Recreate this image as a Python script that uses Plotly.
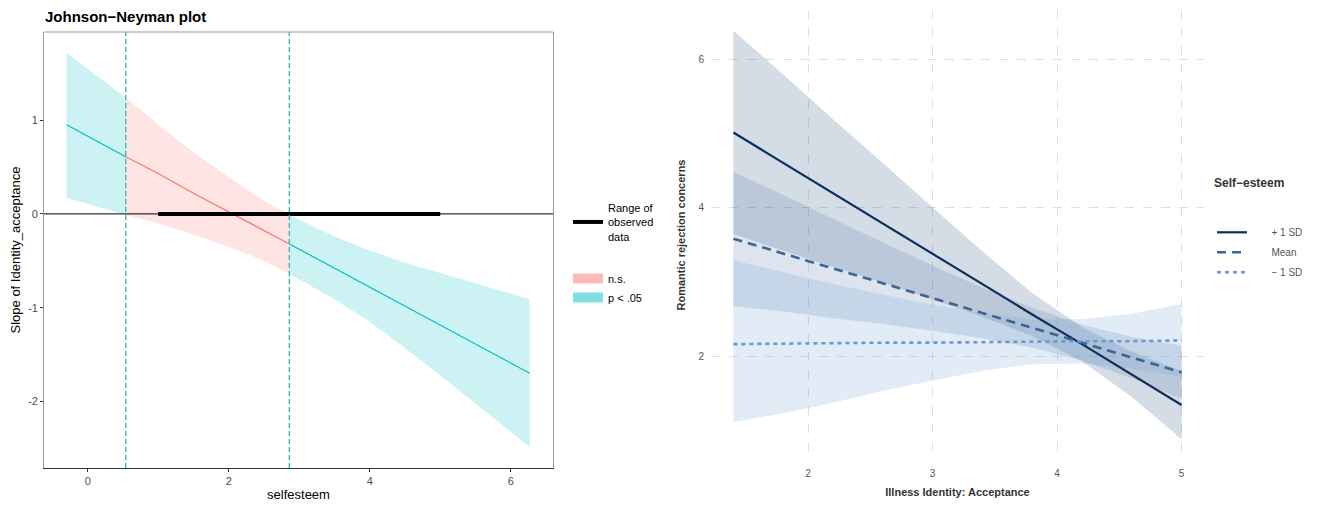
import plotly.graph_objects as go

# --- left panel: Johnson-Neyman plot ---
jn_x = [-0.3, 0.54, 1.0, 1.5, 2.0, 2.5, 2.86, 3.5, 4.0, 4.5, 5.0, 5.5, 6.27]
jn_slope = [0.95, 0.61, 0.43, 0.22, 0.02, -0.18, -0.32, -0.58, -0.78, -0.98, -1.19, -1.39, -1.70]
jn_upper = [1.72, 1.24, 0.95, 0.66, 0.39, 0.14, -0.01, -0.24, -0.39, -0.52, -0.63, -0.74, -0.91]
jn_lower = [0.17, -0.01, -0.10, -0.22, -0.35, -0.50, -0.64, -0.91, -1.15, -1.43, -1.72, -2.02, -2.49]
jn_bounds = [0.54, 2.86]
observed_range = [1, 5]

# --- right panel: simple slopes ---
acc_x = [1.4, 1.8, 2.2, 2.6, 3.0, 3.4, 3.8, 4.2, 4.6, 5.0]
hi_fit = [5.01, 4.60, 4.20, 3.79, 3.38, 2.97, 2.56, 2.16, 1.75, 1.34]
hi_upper = [6.38, 5.79, 5.19, 4.60, 4.00, 3.41, 2.85, 2.39, 2.06, 1.80]
hi_lower = [3.64, 3.42, 3.20, 2.99, 2.76, 2.53, 2.27, 1.93, 1.45, 0.88]
mean_fit = [3.58, 3.38, 3.18, 2.98, 2.78, 2.58, 2.38, 2.18, 1.98, 1.78]
mean_upper = [4.48, 4.17, 3.85, 3.53, 3.22, 2.92, 2.65, 2.42, 2.26, 2.14]
mean_lower = [2.67, 2.60, 2.51, 2.43, 2.34, 2.24, 2.11, 1.94, 1.70, 1.42]
lo_fit = [2.16, 2.17, 2.17, 2.18, 2.18, 2.19, 2.19, 2.20, 2.20, 2.21]
lo_upper = [3.29, 3.13, 2.97, 2.83, 2.69, 2.58, 2.49, 2.50, 2.57, 2.70]
lo_lower = [1.11, 1.23, 1.37, 1.53, 1.67, 1.80, 1.89, 1.90, 1.83, 1.72]

TEAL = "#00BFC4"
SALMON = "#F8766D"
FONT = "Liberation Sans, Arial, sans-serif"

# page body has an 8px margin, so the figure is a bit smaller than the window
OFF = 8
W, H = 1325 - 2 * OFF, 510 - 2 * OFF


def fx(px):
    return (px - OFF) / W


def fy(py):
    return 1 - (py - OFF) / H


fig = go.Figure()


def band(xs, up, lo):
    return xs + xs[::-1], up + lo[::-1]


# split the JN curve into regions at the bounds
i0 = jn_x.index(jn_bounds[0])
i1 = jn_x.index(jn_bounds[1])
regions = [(0, i0, TEAL), (i0, i1, SALMON), (i1, len(jn_x) - 1, TEAL)]
for a, b, col in regions:
    xs = jn_x[a:b + 1]
    bx, by = band(xs, jn_upper[a:b + 1], jn_lower[a:b + 1])
    rgba = "rgba(0,191,196,0.2)" if col == TEAL else "rgba(248,118,109,0.2)"
    fig.add_trace(go.Scatter(x=bx, y=by, fill="toself", fillcolor=rgba, mode="none",
                             showlegend=False, hoverinfo="skip", xaxis="x", yaxis="y"))
for a, b, col in regions:
    fig.add_trace(go.Scatter(x=jn_x[a:b + 1], y=jn_slope[a:b + 1], mode="lines",
                             line=dict(color=col, width=1.2), showlegend=False,
                             xaxis="x", yaxis="y"))

# observed range bar
fig.add_trace(go.Scatter(x=observed_range, y=[0, 0], mode="lines",
                         line=dict(color="black", width=4),
                         name="Range of<br>observed<br>data", legend="legend",
                         xaxis="x", yaxis="y"))

# legend-only fill keys
fig.add_trace(go.Scatter(x=[None], y=[None], mode="lines",
                         line=dict(color="rgba(248,118,109,0.5)", width=16),
                         name="n.s.", legend="legend2", legendgroup="ns",
                         xaxis="x", yaxis="y"))
fig.add_trace(go.Scatter(x=[None], y=[None], mode="lines",
                         line=dict(color="rgba(0,191,196,0.5)", width=16),
                         name="p < .05", legend="legend2", legendgroup="sig",
                         xaxis="x", yaxis="y"))

# right panel bands
NB = "\u00a0"
series = [
    ("+ 1 SD", hi_fit, hi_upper, hi_lower, "#0d2f5c", "rgba(40,80,130,0.2)", "solid", 2.2),
    ("Mean", mean_fit, mean_upper, mean_lower, "#3b6597", "rgba(85,118,168,0.2)", "9px,6px", 2.6),
    ("\u2212 1 SD", lo_fit, lo_upper, lo_lower, "#6a98cc", "rgba(110,160,215,0.2)", "4px,4px", 2.6),
]
for name, fit, up, lo, lc, fc, dash, w in series:
    bx, by = band(acc_x, up, lo)
    fig.add_trace(go.Scatter(x=bx, y=by, fill="toself", fillcolor=fc, mode="none",
                             showlegend=False, hoverinfo="skip", xaxis="x2", yaxis="y2"))
for name, fit, up, lo, lc, fc, dash, w in series:
    fig.add_trace(go.Scatter(x=acc_x, y=fit, mode="lines", name=NB * 7 + name,
                             line=dict(color=lc, width=w, dash=dash), legend="legend3",
                             legendgroup=name, xaxis="x2", yaxis="y2"))

# reference lines on the left panel
fig.add_shape(type="line", xref="x domain", yref="y", x0=0, x1=1, y0=0, y1=0,
              line=dict(color="black", width=1))
for b in jn_bounds:
    fig.add_shape(type="line", xref="x", yref="y domain", x0=b, x1=b, y0=0, y1=1,
                  line=dict(color="#22b8b3", width=1.3, dash="5px,3px"))
fig.add_shape(type="line", xref="x domain", yref="y domain", x0=0, x1=1, y0=1, y1=1,
              line=dict(color="#9a9a9a", width=1))

tick_font = dict(family=FONT, size=11, color="#4d4d4d")
fig.update_layout(
    width=W, height=H,
    margin=dict(l=0, r=0, t=0, b=0),
    plot_bgcolor="white", paper_bgcolor="white",
    font=dict(family=FONT),
    title=dict(text="<b>Johnson\u2212Neyman plot</b>", x=fx(45), xanchor="left",
               y=fy(17), yanchor="middle", font=dict(size=15, color="black")),
    xaxis=dict(domain=[fx(44), fx(553)], range=[-0.62, 6.6], tickvals=[0, 2, 4, 6],
               showgrid=False, zeroline=False, showline=True, linecolor="#333333",
               linewidth=1.2, ticks="outside", ticklen=3, tickcolor="#333333",
               tickfont=tick_font, automargin=False,
               title=dict(text="selfesteem", font=dict(size=13, color="black"), standoff=5),
               anchor="y"),
    yaxis=dict(domain=[fy(468), fy(32)], range=[-2.71, 1.94], tickvals=[-2, -1, 0, 1],
               ticktext=["-2", "-1", "0", "1"],
               showgrid=False, zeroline=False, showline=True, linecolor="#9a9a9a",
               mirror=True, ticks="outside", ticklen=3, tickcolor="#333333",
               tickfont=tick_font, automargin=False,
               title=dict(text="Slope of Identity_acceptance", font=dict(size=13, color="black"),
                          standoff=6),
               anchor="x"),
    xaxis2=dict(domain=[fx(711), fx(1204)], range=[1.22, 5.18], tickvals=[2, 3, 4, 5],
                showgrid=True, gridcolor="#dedede", griddash="dash", gridwidth=1,
                zeroline=False, showline=False, ticks="", ticklabelstandoff=6,
                tickfont=dict(family=FONT, size=10, color="#555555"), automargin=False,
                title=dict(text="Illness Identity: Acceptance",
                           font=dict(size=11, color="#333333", weight="bold"), standoff=10),
                anchor="y2"),
    yaxis2=dict(domain=[fy(460), fy(10)], range=[0.6, 6.66], tickvals=[2, 4, 6],
                showgrid=True, gridcolor="#dedede", griddash="dash", gridwidth=1,
                zeroline=False, showline=False, ticks="", ticklabelstandoff=6,
                tickfont=dict(family=FONT, size=10, color="#555555"), automargin=False,
                title=dict(text="Romantic rejection concerns",
                           font=dict(size=11, color="#333333", weight="bold"), standoff=10),
                anchor="x2"),
    legend=dict(x=fx(568), y=fy(194), xanchor="left", yanchor="top",
                font=dict(family=FONT, size=11, color="black"), bgcolor="rgba(0,0,0,0)"),
    legend2=dict(x=fx(568), y=fy(264), xanchor="left", yanchor="top",
                 font=dict(family=FONT, size=11, color="black"), bgcolor="rgba(0,0,0,0)",
                 tracegroupgap=0),
    legend3=dict(x=fx(1212), y=fy(171), xanchor="left", yanchor="top",
                 title=dict(text="<b>Self\u2212esteem</b><br> <br> ",
                            side="top",
                            font=dict(family=FONT, size=12, color="#333333")),
                 font=dict(family=FONT, size=10, color="#555555"), bgcolor="rgba(0,0,0,0)",
                 tracegroupgap=1),
)

fig.write_html("out.html")
